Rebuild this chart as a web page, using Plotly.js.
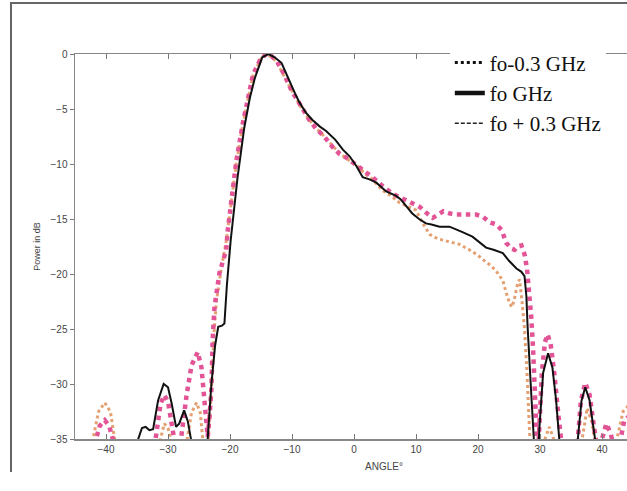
<!DOCTYPE html>
<html>
<head>
<meta charset="utf-8">
<script src="https://cdn.plot.ly/plotly-3.0.1.min.js"></script>
<style>
html,body{margin:0;padding:0;background:#fff;overflow:hidden;}
#wrap{position:relative;width:627px;height:491px;}
#chart{width:627px;height:491px;}
#frame{position:absolute;left:10px;top:2px;width:640px;height:468px;border-top:2px solid #666;border-left:2px solid #666;pointer-events:none;}
</style>
</head>
<body>
<div id="wrap">
<div id="chart"></div>
<div id="frame"></div>
</div>
<script>
// Series names
const seriesNames = ["fo-0.3 GHz", "fo GHz", "fo + 0.3 GHz"];

// fo - 0.3 GHz (pink dotted)
const xMinus = [-42.0,-41.6,-41.0,-40.2,-39.5,-38.9,-38.5,
  -32.4,-32.0,-31.2,-30.6,-30.0,-29.3,-29.0,-28.8,
  -28.3,-27.9,-27.0,-26.2,-25.2,-24.6,-24.1,-23.6,
  -23.3,-23.0,-22.8,-22.5,-21.7,-20.6,-20.4,-19.7,-19.0,-17.9,-17.0,-16.3,-15.2,-14.2,-13.3,-12.5,-11.3,-10.1,-8.8,-8.3,-7.2,-6.1,-4.8,-3.4,-2.3,-1.3,-0.5,0.4,2.0,3.0,4.6,5.2,6.2,7.3,8.8,10.6,12.0,12.7,13.3,14.4,15.5,16.5,18.1,19.7,20.8,21.9,23.0,23.8,24.6,25.4,25.9,26.4,27.0,27.5,27.9,28.3,28.6,28.9,29.2,29.4,29.5,
  29.7,29.8,30.3,30.8,31.2,31.7,32.3,33.0,33.4,33.6,
  35.8,36.1,36.6,37.3,38.0,38.6,39.0,39.2,
  39.8,40.0,40.7,41.4,41.6,41.8,
  42.8,43.0,43.6,44.2];
const yMinus = [-38,-35,-33.8,-33.3,-33.8,-35,-38,
  -38,-35,-31.8,-31.0,-31.6,-34,-35,-38,
  -38,-35,-31,-28.3,-27.1,-28.5,-31.5,-34.8,
  -33,-30.5,-26,-23,-19.9,-17.8,-16.2,-13,-9.8,-6.2,-4,-1.9,-0.6,0,-0.2,-0.6,-1.8,-3.3,-4.5,-5.0,-6.0,-6.8,-7.5,-8.5,-9.1,-9.4,-9.7,-10.1,-10.8,-11.2,-12.0,-12.3,-12.7,-13.0,-13.4,-13.9,-14.6,-14.9,-14.7,-14.3,-14.5,-14.6,-14.6,-14.6,-14.8,-15.3,-15.5,-16.0,-17.2,-17.7,-17.8,-17.5,-17.4,-18.2,-19.5,-22,-24,-27,-31,-35,-38,
  -38,-35,-29,-26.2,-25.5,-26.3,-29,-33,-35,-38,
  -38,-35,-31.5,-29.9,-31,-33.5,-35,-38,
  -38,-35,-33.6,-34.5,-35,-38,
  -38,-35,-33.3,-33];

// fo GHz (black solid)
const xCenter = [-35.2,-34.8,-34.2,-33.6,-33.0,-32.4,-31.6,-30.7,-30.0,-29.4,-28.7,-28.2,-27.4,-26.8,-26.3,-26.0,
  -23.8,-23.6,-23.0,-22.4,-21.9,-21.3,-20.9,-20.5,-19.9,-19.3,-18.8,-17.7,-16.8,-16.0,-14.8,-13.8,-12.8,-11.7,-10.5,-9.5,-8.8,-7.8,-6.7,-5.5,-4.5,-3.0,-1.8,-0.7,0.4,1.4,2.5,3.6,5.2,6.8,7.5,8.5,9.4,10.5,11.6,12.5,13.8,15.4,16.5,17.5,19.1,20.2,21.3,22.5,24.0,25.0,26.2,27.0,27.5,27.8,28.0,28.5,29.0,29.3,
  29.6,29.9,30.5,31.3,32.0,32.6,33.1,33.3,
  35.9,36.1,36.7,37.3,38.0,38.6,39.0,39.2];
const yCenter = [-38,-35,-34.0,-33.9,-34.2,-34.1,-31.5,-30.0,-30.3,-31.8,-33.9,-33.6,-32.4,-33.4,-35,-38,
  -38,-35,-30,-26.5,-24.8,-24.7,-24.5,-21,-17,-13.8,-11.3,-6.7,-4.0,-2.2,-0.3,0,-0.3,-0.8,-2.4,-3.6,-4.4,-5.3,-6.0,-6.6,-7.0,-7.8,-8.7,-9.3,-10.2,-11.2,-11.4,-11.7,-12.5,-12.9,-13.2,-13.9,-14.5,-15.0,-15.4,-15.5,-15.7,-15.7,-16.0,-16.2,-16.6,-17.1,-17.6,-17.8,-18.1,-18.8,-19.5,-19.8,-20.2,-22,-24.8,-30,-35,-38,
  -38,-34,-29,-27.2,-28.5,-31.5,-35,-38,
  -38,-35,-31.5,-30.3,-31.5,-34,-35.5,-38];

// fo + 0.3 GHz (orange dotted)
const xPlus = [-42.4,-42.1,-41.2,-40.2,-39.3,-38.6,-38.3,
  -31.5,-31.2,-30.6,-30.0,-29.6,-29.4,
  -27.2,-26.9,-26.2,-25.4,-24.8,-24.4,-24.2,
  -23.7,-23.5,-23.0,-22.6,-22.2,-21.4,-20.6,-19.5,-19.0,-17.9,-16.3,-15.0,-14.1,-13.2,-12.4,-11.2,-10.0,-8.8,-7.2,-6.0,-4.6,-3.2,-1.5,0.2,1.8,3.0,4.6,6.0,7.3,8.5,10.0,11.0,12.2,13.5,15.4,17.0,18.6,20.0,20.8,22.0,22.9,24.0,24.6,25.1,25.5,25.9,26.4,26.7,27.1,27.5,27.9,28.2,28.4,28.6,
  30.6,30.8,31.5,32.2,32.4,
  36.6,36.8,37.6,38.4,38.8,39.0,
  42.2,42.4,43.4,44.2];
const yPlus = [-38,-35,-32.5,-31.7,-32.5,-35,-38,
  -38,-35,-33.6,-34,-35,-38,
  -38,-35,-32.6,-31.7,-32.6,-35,-38,
  -38,-35,-30.5,-25.5,-22.5,-19.5,-17,-12.5,-10,-6.3,-2,-0.4,0,-0.3,-0.8,-2.1,-3.4,-4.6,-6.0,-6.8,-7.6,-8.5,-9.4,-10.0,-10.9,-11.4,-12.4,-12.9,-13.5,-13.8,-14.2,-15.3,-16.4,-16.8,-17.1,-17.3,-17.8,-18.3,-18.7,-19.2,-19.7,-20.6,-21.8,-22.7,-23.0,-22.2,-20.8,-20.5,-22.5,-25,-29,-33,-35,-38,
  -38,-35,-33.9,-35,-38,
  -38,-35,-32.2,-33.5,-35,-38,
  -38,-35,-32.5,-32];

// Axis ticks
const xTickVals = [-40,-30,-20,-10,0,10,20,30,40];
const yTickVals = [0,-5,-10,-15,-20,-25,-30,-35];

const pink = "rgb(226,84,150)";
const orange = "rgb(228,160,112)";

const traces = [
  {x:xPlus, y:yPlus, mode:"lines", line:{color:orange, width:3, dash:"dot"}, showlegend:false, hoverinfo:"skip"},
  {x:xMinus, y:yMinus, mode:"lines", line:{color:pink, width:4.5, dash:"dot"}, showlegend:false, hoverinfo:"skip"},
  {x:xCenter, y:yCenter, mode:"lines", line:{color:"#111", width:2}, showlegend:false, hoverinfo:"skip"},
  // legend entries (black symbols as in the reference)
  {x:[null], y:[null], mode:"lines", name:seriesNames[0], line:{color:"#111", width:3, dash:"dot"}},
  {x:[null], y:[null], mode:"lines", name:seriesNames[1], line:{color:"#111", width:4.5}},
  {x:[null], y:[null], mode:"lines", name:seriesNames[2], line:{color:"#222", width:1.5, dash:"4px,2px"}}
];

const layout = {
  width:627, height:491,
  margin:{l:75, r:0, t:54, b:52},
  paper_bgcolor:"#fff", plot_bgcolor:"#fff",
  showlegend:true,
  legend:{x:0.679, xanchor:"left", y:1.03, yanchor:"top", bgcolor:"#fff", borderwidth:0,
    font:{family:"Liberation Serif", size:21, color:"#111"}, tracegroupgap:0},
  xaxis:{range:[-45,44.03], tickvals:xTickVals, ticks:"inside", ticklen:5, tickcolor:"#777",
    showline:true, linecolor:"#888", linewidth:1.5, mirror:"ticks", showgrid:false, zeroline:false,
    tickfont:{family:"Liberation Sans", size:10, color:"#444"}},
  yaxis:{range:[-35,0], tickvals:yTickVals, ticks:"outside", ticklen:4, tickcolor:"#777",
    showline:true, linecolor:"#888", linewidth:1.5, mirror:true, showgrid:false, zeroline:false,
    tickfont:{family:"Liberation Sans", size:10, color:"#444"},
    title:{text:"Power in dB", font:{family:"Liberation Sans", size:9, color:"#444"}, standoff:8}},
  annotations:[
    {text:"ANGLE°", xref:"x", x:4.8, yref:"paper", y:-0.052, yanchor:"top", showarrow:false,
     font:{family:"Liberation Sans", size:10, color:"#444"}}
  ]
};

Plotly.newPlot("chart", traces, layout, {displayModeBar:false, staticPlot:true});
</script>
</body>
</html>
